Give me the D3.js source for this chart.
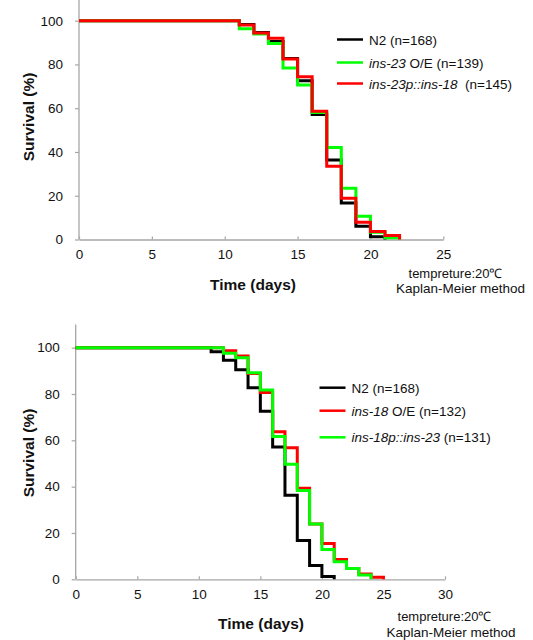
<!DOCTYPE html>
<html>
<head>
<meta charset="utf-8">
<script src="https://cdn.jsdelivr.net/npm/d3@7"></script>
<style>
  body { margin: 0; background: #fff; }
  svg text { font-family: "Liberation Sans", Arial, sans-serif; fill: #111; }
</style>
</head>
<body>
<div id="chart-area"></div>
<script>
// ---- data ----
// top panel
var topN2Days = [0, 11, 12, 13, 14, 15, 16, 17, 18, 19, 20, 21];
var topN2 = [100, 98.2, 94.6, 90.5, 82.7, 72.6, 57.1, 36.3, 16.7, 6.0, 1.2, 0];
var topOEDays = [0, 11, 12, 13, 14, 15, 16, 17, 18, 19, 20, 21, 22];
var topOE = [100, 96.3, 93.9, 89.6, 78.4, 70.6, 58.0, 42.1, 23.4, 10.6, 3.3, 0.8, 0];
var topPromDays = [0, 11, 12, 13, 14, 15, 16, 17, 18, 19, 20, 21, 22];
var topProm = [100, 98.0, 94.4, 92.0, 82.5, 74.4, 58.6, 33.5, 18.9, 7.9, 3.7, 1.8, 0];

// bottom panel
var botN2Days = [0, 11, 12, 13, 14, 15, 16, 17, 18, 19, 20, 21];
var botN2 = [100, 98.2, 94.6, 90.5, 82.7, 72.6, 57.1, 36.3, 16.7, 6.0, 1.2, 0];
var botOEDays = [0, 12, 13, 14, 15, 16, 17, 18, 19, 20, 21, 22, 23, 24, 25];
var botOE = [100, 98.7, 96.4, 88.9, 80.6, 63.7, 56.8, 39.3, 23.9, 15.5, 8.6, 4.7, 2.3, 0.9, 0];
var botPromDays = [0, 12, 13, 14, 15, 16, 17, 18, 19, 20, 21, 22, 23, 24];
var botProm = [100, 97.6, 95.6, 89.2, 81.7, 61.6, 49.7, 38.3, 23.9, 12.9, 7.6, 4.7, 1.9, 0];

var yTicks = [0, 20, 40, 60, 80, 100];
var topXTicks = [0, 5, 10, 15, 20, 25];
var botXTicks = [0, 5, 10, 15, 20, 25, 30];

var BLACK = "#000000", GREEN = "#00ff00", RED = "#ff0000";

var svg = d3.select("#chart-area").append("svg")
    .attr("width", 533)
    .attr("height", 640);

function zip(days, vals) {
    return days.map(function(d, i) { return { day: d, surv: vals[i] }; });
}

// draws one survival panel
function panel(opt) {
    var x = d3.scaleLinear().domain([0, opt.xMax]).range([opt.x0, opt.x1]);
    var y = d3.scaleLinear().domain([0, 110]).range([opt.y0, opt.y1]);
    var g = svg.append("g");

    // y axis
    var yAxis = g.append("g")
        .attr("transform", "translate(" + opt.x0 + ",0)")
        .call(d3.axisLeft(y).tickValues(yTicks).tickSize(4).tickPadding(12));
    // x axis, ticks point inward
    var xAxis = g.append("g")
        .attr("transform", "translate(0," + opt.y0 + ")")
        .call(d3.axisBottom(x).tickValues(opt.xTicks).tickSizeInner(-3).tickSizeOuter(0).tickPadding(10));
    [xAxis, yAxis].forEach(function(a) {
        a.select(".domain").attr("stroke", "#a6a6a6").attr("stroke-width", 1.3);
        a.selectAll(".tick line").attr("stroke", "#a6a6a6").attr("stroke-width", 1.2);
        a.selectAll(".tick text")
            .attr("font-size", "13.5px")
            .attr("font-family", "Liberation Sans, Arial, sans-serif")
            .attr("fill", "#1a1a1a");
    });
    yAxis.select(".domain").attr("d", "M0," + opt.y0 + "V" + opt.y1);

    var line = d3.line()
        .curve(d3.curveStepAfter)
        .x(function(d) { return x(d.day); })
        .y(function(d) { return y(d.surv); });

    opt.series.forEach(function(s) {
        g.append("path")
            .attr("d", line(zip(s.days, s.vals)))
            .attr("fill", "none")
            .attr("stroke", s.color)
            .attr("stroke-width", 3)
            .attr("stroke-linejoin", "miter")
            .attr("stroke-linecap", "butt");
    });

    // axis titles
    g.append("text")
        .attr("transform", "translate(" + opt.yTitle[0] + "," + opt.yTitle[1] + ") rotate(-90)")
        .attr("text-anchor", "middle")
        .attr("dominant-baseline", "central")
        .attr("font-size", "15.5px")
        .attr("font-weight", "bold")
        .text("Survival (%)");
    g.append("text")
        .attr("x", opt.xTitle[0]).attr("y", opt.xTitle[1])
        .attr("text-anchor", "middle")
        .attr("dominant-baseline", "central")
        .attr("font-size", "15.5px")
        .attr("font-weight", "bold")
        .text("Time (days)");
    // two-line note (y = baselines)
    g.append("text")
        .attr("x", opt.note1[0]).attr("y", opt.note1[1])
        .attr("text-anchor", "middle")
        .attr("font-size", "13px")
        .text("tempreture:20\u2103");
    g.append("text")
        .attr("x", opt.note2[0]).attr("y", opt.note2[1])
        .attr("text-anchor", "middle")
        .attr("font-size", "13.5px")
        .text("Kaplan-Meier method");

    // legend
    opt.legend.forEach(function(l, i) {
        var ly = opt.legY[i];
        g.append("line")
            .attr("x1", opt.legX).attr("x2", opt.legX + 26)
            .attr("y1", ly).attr("y2", ly)
            .attr("stroke", l.color)
            .attr("stroke-width", 2.5);
        var t = g.append("text")
            .attr("x", opt.legX + 32).attr("y", ly)
            .attr("dominant-baseline", "central")
            .attr("font-size", "13.5px")
            .style("white-space", "pre");
        l.parts.forEach(function(p) {
            t.append("tspan")
                .attr("font-style", p[1] ? "italic" : "normal")
                .text(p[0]);
        });
    });
}

panel({
    x0: 79, x1: 443.3, y0: 239.5, y1: -1.2, xMax: 25, xTicks: topXTicks,
    series: [
        { days: topN2Days, vals: topN2, color: BLACK },
        { days: topOEDays, vals: topOE, color: GREEN },
        { days: topPromDays, vals: topProm, color: RED }
    ],
    yTitle: [28, 117], xTitle: [253, 284],
    note1: [455.5, 278], note2: [460.5, 293],
    legX: 337, legY: [39.5, 62.5, 83.5],
    legend: [
        { color: BLACK, parts: [["N2 (n=168)", false]] },
        { color: GREEN, parts: [["ins-23", true], [" O/E (n=139)", false]] },
        { color: RED, parts: [["ins-23p::ins-18", true], ["  (n=145)", false]] }
    ]
});

panel({
    x0: 75.7, x1: 445, y0: 579.3, y1: 324.5, xMax: 30, xTicks: botXTicks,
    series: [
        { days: botN2Days, vals: botN2, color: BLACK },
        { days: botOEDays, vals: botOE, color: RED },
        { days: botPromDays, vals: botProm, color: GREEN }
    ],
    yTitle: [28, 453], xTitle: [261, 623],
    note1: [444.5, 621], note2: [451, 636.5],
    legX: 319.5, legY: [387.7, 410.7, 437.3],
    legend: [
        { color: BLACK, parts: [["N2 (n=168)", false]] },
        { color: RED, parts: [["ins-18", true], [" O/E (n=132)", false]] },
        { color: GREEN, parts: [["ins-18p::ins-23", true], [" (n=131)", false]] }
    ]
});
</script>
</body>
</html>
